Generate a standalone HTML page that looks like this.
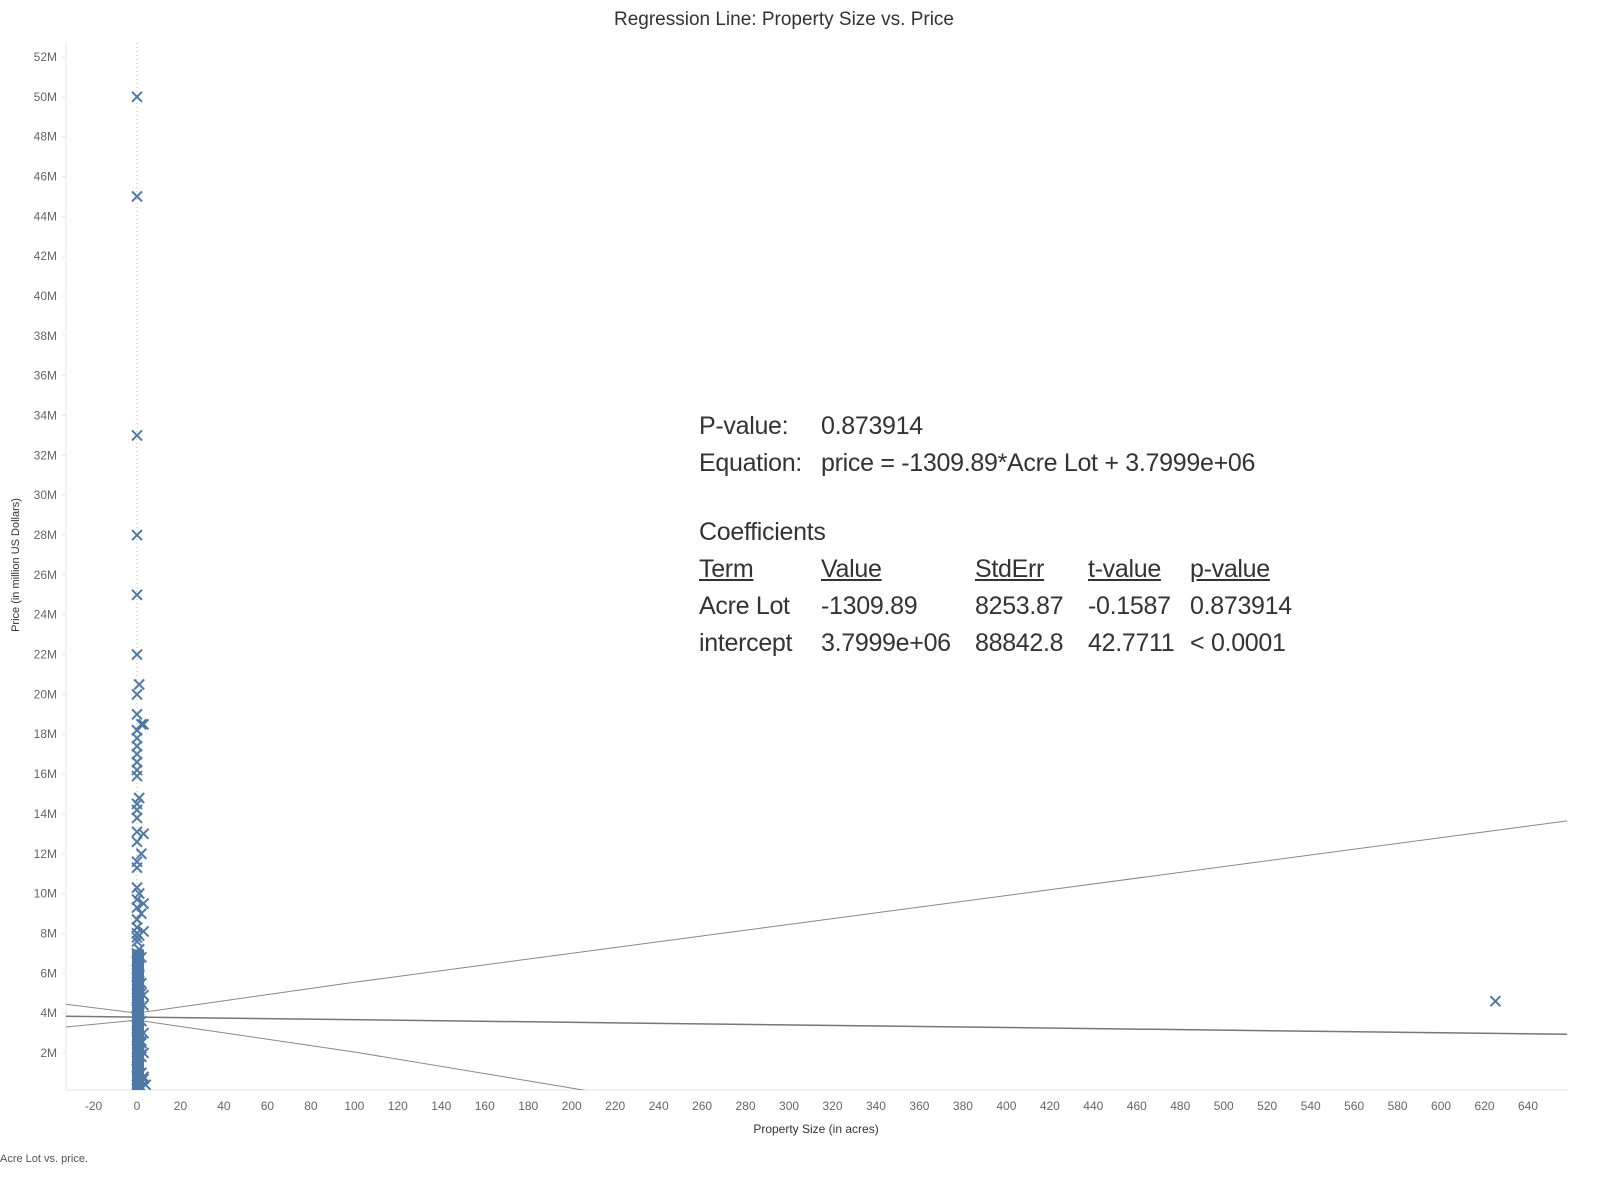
<!DOCTYPE html>
<html><head><meta charset="utf-8"><style>
body{margin:0;width:1612px;height:1201px;background:#fff;font-family:"Liberation Sans",sans-serif;overflow:hidden;position:relative}
.st{position:absolute;font-size:25px;color:#333;letter-spacing:-0.3px;white-space:nowrap}
.u{text-decoration:underline}
</style></head><body>
<div style="position:absolute;top:9px;left:0;width:1568px;text-align:center;font-size:19px;color:#333">Regression Line: Property Size vs. Price</div>
<svg id="chart" width="1612" height="1201" style="position:absolute;left:0;top:0"></svg>
<div>
<div class="st" style="left:699px;top:412px">P-value:</div><div class="st" style="left:821px;top:412px">0.873914</div>
<div class="st" style="left:699px;top:449px">Equation:</div><div class="st" style="left:821px;top:449px">price = -1309.89*Acre Lot + 3.7999e+06</div>
<div class="st" style="left:699px;top:518px">Coefficients</div>
<div class="st u" style="left:699px;top:555px">Term</div><div class="st u" style="left:821px;top:555px">Value</div><div class="st u" style="left:975px;top:555px">StdErr</div><div class="st u" style="left:1088px;top:555px">t-value</div><div class="st u" style="left:1190px;top:555px">p-value</div>
<div class="st" style="left:699px;top:592px">Acre Lot</div><div class="st" style="left:821px;top:592px">-1309.89</div><div class="st" style="left:975px;top:592px">8253.87</div><div class="st" style="left:1088px;top:592px">-0.1587</div><div class="st" style="left:1190px;top:592px">0.873914</div>
<div class="st" style="left:699px;top:629px">intercept</div><div class="st" style="left:821px;top:629px">3.7999e+06</div><div class="st" style="left:975px;top:629px">88842.8</div><div class="st" style="left:1088px;top:629px">42.7711</div><div class="st" style="left:1190px;top:629px">&lt; 0.0001</div>
</div>
<div style="position:absolute;left:0;top:1153px;font-size:11px;color:#555">Acre Lot vs. price.</div>
<script>
const xTicks=[-20,0,20,40,60,80,100,120,140,160,180,200,220,240,260,280,300,320,340,360,380,400,420,440,460,480,500,520,540,560,580,600,620,640];
const yTicks=[2,4,6,8,10,12,14,16,18,20,22,24,26,28,30,32,34,36,38,40,42,44,46,48,50,52];
const acres=[0,0,0,0,0,0,1,0,2,0,0,3,0,0,0,0,0,0,0,1,0,0,0,3,0,2,0,0,0,1,0,3,0,2,0,0,0,1,0,0,3,1,0,2,0,1,0,0,0,1,0,0,2,1,0,3,0,1,0,2,0,1,3,0,2,1,0,3,2,0,1,0,2,3,1,0,2,0,1,2,3,0,1,0,2,1,0,3,4,1,625];
const prices=[50,45,33,28,25,22,20.5,20,18.5,19,18.2,18.5,17.8,17.4,17,16.6,16.2,15.9,14.5,14.8,14.2,13.8,13.1,13,12.6,12,11.6,11.3,10.3,10,9.7,9.5,9.3,9,8.7,8.3,8,7.9,7.8,7.6,8.1,7.2,7,6.8,6.6,6.4,6.2,6,5.8,5.6,5.4,5.2,5,4.8,4.6,4.4,4.2,4,3.8,3.6,3.4,3.2,3,2.8,2.6,2.4,2.2,2,1.8,1.6,1.4,1.2,1,0.8,0.6,0.4,0.3,0.2,6.3,5.5,4.9,4.3,3.7,3.1,2.5,1.9,1.3,0.7,0.4,5.1,4.6];
const regLine=[[-33,3.8432],[658,2.9380]];
const bandUpper=[[-33,4.45],[0,4.0],[100,5.55],[658,13.65]];
const bandLower=[[-33,3.3],[0,3.65],[100,2.05],[213,0]];
const L=66,R=1568,T=43,B=1090;
const X=v=>137+v*(1528-137)/640;
const Y=v=>1092.8-v*(1053-57)/50;
const svg=document.getElementById('chart');const NS='http://www.w3.org/2000/svg';
function mk(t,a,p){const e=document.createElementNS(NS,t);for(const k in a)e.setAttribute(k,a[k]);(p||svg).appendChild(e);return e;}
const clip=mk('clipPath',{id:'pc'});mk('rect',{x:L,y:T,width:R-L,height:B-T},clip);
let e=mk('line',{x1:L,y1:T,x2:L,y2:B,stroke:'#e6e6e6'});

e=mk('line',{x1:L,y1:B,x2:R,y2:B,stroke:'#e6e6e6'});

e=mk('line',{x1:X(0),y1:T,x2:X(0),y2:B,stroke:'#bbb','stroke-dasharray':'1,3'});

yTicks.forEach(v=>{const t=mk('text',{x:57,y:Y(v)+4,'text-anchor':'end','font-size':12,fill:'#666'});t.textContent=v+'M';

mk('line',{x1:L-4,y1:Y(v),x2:L,y2:Y(v),stroke:'#e6e6e6'});});
xTicks.forEach(v=>{const t=mk('text',{x:X(v),y:1110,'text-anchor':'middle','font-size':12,fill:'#666'});t.textContent=v;
});
let t=mk('text',{x:816,y:1133,'text-anchor':'middle','font-size':12,fill:'#333'});t.textContent='Property Size (in acres)';

t=mk('text',{x:0,y:0,'text-anchor':'middle','font-size':11,fill:'#333',transform:'translate(19,565) rotate(-90)'});t.textContent='Price (in million US Dollars)';

const g=mk('g',{'clip-path':'url(#pc)'});
function pl(pts,w,c,name){const p=mk('polyline',{points:pts.map(q=>X(q[0])+','+Y(q[1])).join(' '),fill:'none',stroke:c,'stroke-width':w},g);
}
pl(bandUpper,1,'#888','confidence-upper');pl(bandLower,1,'#888','confidence-lower');pl(regLine,1.5,'#777','regression-line');
e=mk('rect',{x:X(0)-5,y:Y(7.2),width:12,height:Y(0.1)-Y(7.2),fill:'#4e79a7'},g);

acres.forEach((a,i)=>{const cx=X(a),cy=Y(prices[i]),s=5;
const p=mk('path',{d:`M${cx-s},${cy-s}L${cx+s},${cy+s}M${cx-s},${cy+s}L${cx+s},${cy-s}`,stroke:'#4e79a7','stroke-width':2},g);
});
</script>
</body></html>
